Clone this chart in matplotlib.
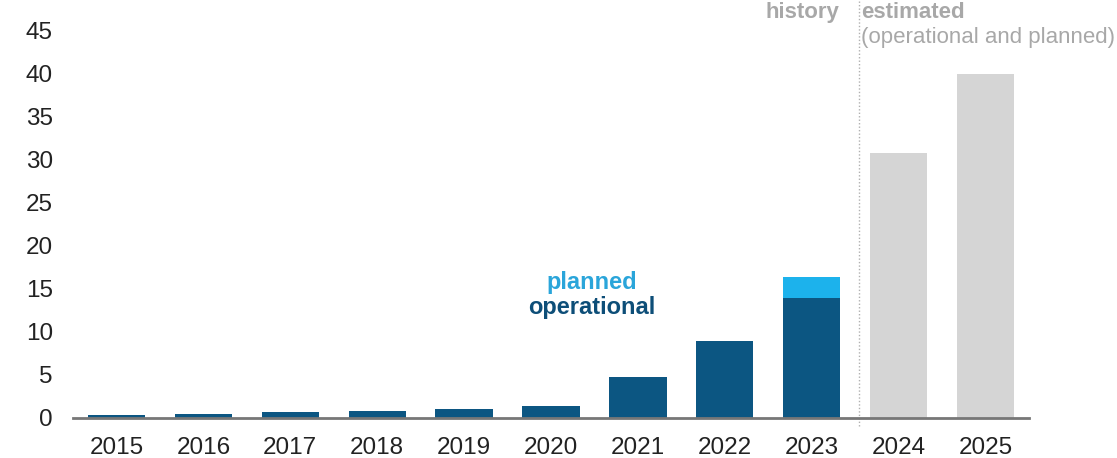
import matplotlib
matplotlib.use("Agg")
import matplotlib.pyplot as plt
import numpy as np

plt.rcParams['font.family'] = ['Liberation Sans', 'DejaVu Sans']

# data
years = ["2015", "2016", "2017", "2018", "2019", "2020", "2021", "2022", "2023", "2024", "2025"]
operational = [0.3, 0.47, 0.65, 0.85, 1.0, 1.45, 4.8, 9.0, 14.0, 0, 0]
planned = [0, 0, 0, 0, 0, 0, 0, 0, 2.4, 0, 0]
estimated = [0, 0, 0, 0, 0, 0, 0, 0, 0, 30.8, 40.0]
yticks = [0, 5, 10, 15, 20, 25, 30, 35, 40, 45]

dark = "#0c5682"
light = "#1cb2ec"
grey = "#d5d5d5"
txtgrey = "#a8a8a8"

fig = plt.figure(figsize=(11.17, 4.58), dpi=100)
ax = fig.add_axes([73/1117, 1 - 418/458, (1029-73)/1117, 418/458])

x = np.arange(len(years))
w = 0.66
ax.bar(x, operational, width=w, color=dark, zorder=2)
ax.bar(x, planned, width=w, bottom=operational, color=light, zorder=2)
ax.bar(x, estimated, width=w, color=grey, zorder=2)

ax.set_xlim(-0.5, len(years) - 0.5)
ax.set_ylim(0, 48.6)
ax.set_xticks(x)
ax.set_xticklabels(years, fontsize=17.5, color="#222222")
ax.set_yticks(yticks)
ax.set_yticklabels([str(v) for v in yticks], fontsize=17.5, color="#222222")
ax.tick_params(axis="both", length=0)
ax.tick_params(axis="y", pad=14.5)
ax.tick_params(axis="x", pad=13.5)

for s in ["top", "right", "left"]:
    ax.spines[s].set_visible(False)
ax.spines["bottom"].set_color("#777777")
ax.spines["bottom"].set_linewidth(2)
ax.spines["bottom"].set_zorder(3)

# divider between history and estimate
ax.axvline(8.54, ymin=-0.02, ymax=1, color="#b0b0b0", linestyle=(0, (1, 1.5)),
           linewidth=1, clip_on=False, zorder=1)

ax.text(8.32, 47.2, "history", ha="right", va="center", fontsize=16,
        fontweight="bold", color=txtgrey)
ax.text(8.57, 47.2, "estimated", ha="left", va="center", fontsize=16,
        fontweight="bold", color=txtgrey)
ax.text(8.57, 44.2, "(operational and planned)", ha="left", va="center",
        fontsize=16, color=txtgrey)

ax.text(5.47, 15.8, "planned", ha="center", va="center", fontsize=17,
        fontweight="bold", color="#2aa5da")
ax.text(5.47, 12.8, "operational", ha="center", va="center", fontsize=17,
        fontweight="bold", color="#0d4e78")

fig.savefig("out.png", dpi=100)
